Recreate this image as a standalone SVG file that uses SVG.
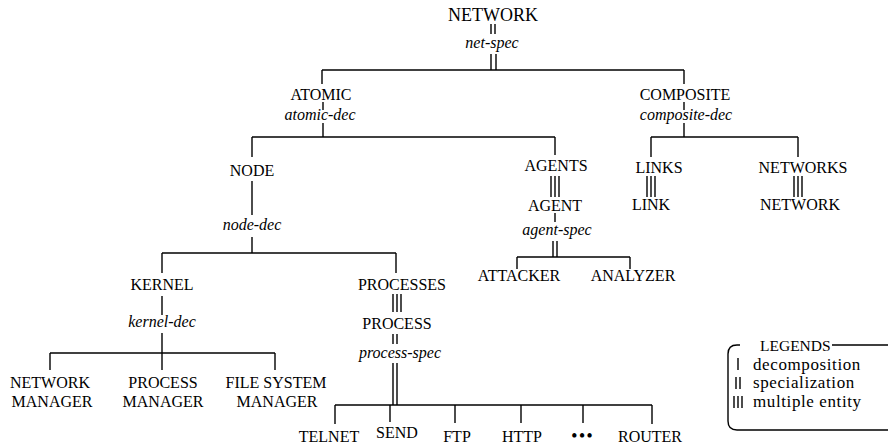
<svg xmlns="http://www.w3.org/2000/svg" width="888" height="444" viewBox="0 0 888 444">
<style>
  text { font-family: "Liberation Serif", "Times New Roman", serif; fill: #000; }
  .n { font-size: 16px; text-anchor: middle; }
  .t { font-size: 18px; text-anchor: middle; }
  .i { font-size: 16px; font-style: italic; text-anchor: middle; }
  .lg { font-size: 17px; letter-spacing: 0.6px; }
  .c line, .c path { stroke: #000; stroke-width: 1.4; fill: none; }
  .bx { stroke: #000; stroke-width: 1.4; fill: none; }
</style>
<rect width="888" height="444" fill="#fff"/>

<g id="connectors" class="c">
  <!-- NETWORK spec -->
  <line x1="491" y1="24" x2="491" y2="34"/><line x1="495" y1="24" x2="495" y2="34"/>
  <line x1="491" y1="54" x2="491" y2="70"/><line x1="496" y1="54" x2="496" y2="70"/>
  <line x1="322" y1="70" x2="684" y2="70"/>
  <line x1="322" y1="70" x2="322" y2="84"/><line x1="684" y1="70" x2="684" y2="84"/>
  <!-- ATOMIC -->
  <line x1="323" y1="102" x2="323" y2="110"/>
  <line x1="323" y1="123" x2="323" y2="137"/>
  <line x1="252" y1="137" x2="555" y2="137"/>
  <line x1="252" y1="137" x2="252" y2="157"/><line x1="555" y1="137" x2="555" y2="155"/>
  <!-- COMPOSITE -->
  <line x1="684" y1="102" x2="684" y2="110"/>
  <line x1="684" y1="123" x2="684" y2="137"/>
  <line x1="651" y1="137" x2="798" y2="137"/>
  <line x1="651" y1="137" x2="651" y2="157"/><line x1="798" y1="137" x2="798" y2="157"/>
  <line x1="647" y1="176" x2="647" y2="197"/><line x1="651" y1="176" x2="651" y2="197"/><line x1="655" y1="176" x2="655" y2="197"/>
  <line x1="794" y1="176" x2="794" y2="197"/><line x1="798" y1="176" x2="798" y2="197"/><line x1="802" y1="176" x2="802" y2="197"/>
  <!-- AGENTS -->
  <line x1="551" y1="176" x2="551" y2="197"/><line x1="555" y1="176" x2="555" y2="197"/><line x1="559" y1="176" x2="559" y2="197"/>
  <line x1="555" y1="213" x2="555" y2="222"/>
  <line x1="553" y1="241" x2="553" y2="257"/><line x1="557" y1="241" x2="557" y2="257"/>
  <line x1="517" y1="257" x2="630" y2="257"/>
  <line x1="517" y1="257" x2="517" y2="269"/><line x1="630" y1="257" x2="630" y2="269"/>
  <!-- NODE -->
  <line x1="252" y1="181" x2="252" y2="215"/>
  <line x1="252" y1="237" x2="252" y2="253"/>
  <line x1="162" y1="253" x2="396" y2="253"/>
  <line x1="162" y1="253" x2="162" y2="273"/><line x1="396" y1="253" x2="396" y2="273"/>
  <!-- KERNEL -->
  <line x1="162" y1="296" x2="162" y2="315"/>
  <line x1="162" y1="333" x2="162" y2="353"/>
  <line x1="50" y1="353" x2="275" y2="353"/>
  <line x1="50" y1="353" x2="50" y2="370"/><line x1="162" y1="353" x2="162" y2="370"/><line x1="275" y1="353" x2="275" y2="370"/>
  <!-- PROCESSES -->
  <line x1="393" y1="294" x2="393" y2="312"/><line x1="397" y1="294" x2="397" y2="312"/><line x1="401" y1="294" x2="401" y2="312"/>
  <line x1="393" y1="334" x2="393" y2="344"/><line x1="397" y1="334" x2="397" y2="344"/>
  <line x1="393" y1="363" x2="393" y2="405"/><line x1="397" y1="363" x2="397" y2="405"/>
  <line x1="335" y1="405" x2="652" y2="405"/>
  <line x1="335" y1="405" x2="335" y2="424"/><line x1="390" y1="405" x2="390" y2="422"/>
  <line x1="455" y1="405" x2="455" y2="423"/><line x1="521" y1="405" x2="521" y2="423"/>
  <line x1="583" y1="405" x2="583" y2="423"/><line x1="652" y1="405" x2="652" y2="424"/>
</g>

<g id="network"><text class="t" x="493" y="21">NETWORK</text><text class="i" x="492" y="48">net-spec</text></g>
<g id="atomic"><text class="n" x="321" y="100">ATOMIC</text><text class="i" x="320" y="120">atomic-dec</text></g>
<g id="composite"><text class="n" x="685" y="100">COMPOSITE</text><text class="i" x="686" y="120">composite-dec</text></g>
<g id="node"><text class="n" x="252" y="176">NODE</text><text class="i" x="252" y="230">node-dec</text></g>
<g id="agents"><text class="n" x="556" y="171">AGENTS</text></g>
<g id="agent"><text class="n" x="555" y="211">AGENT</text><text class="i" x="557" y="235">agent-spec</text></g>
<g id="links"><text class="n" x="659" y="173">LINKS</text></g>
<g id="link"><text class="n" x="651" y="210">LINK</text></g>
<g id="networks"><text class="n" x="803" y="173">NETWORKS</text></g>
<g id="network2"><text class="n" x="800" y="210">NETWORK</text></g>
<g id="attacker"><text class="n" x="519" y="281">ATTACKER</text></g>
<g id="analyzer"><text class="n" x="633" y="281">ANALYZER</text></g>
<g id="kernel"><text class="n" x="162" y="290">KERNEL</text><text class="i" x="162" y="327">kernel-dec</text></g>
<g id="processes"><text class="n" x="402" y="290">PROCESSES</text></g>
<g id="process"><text class="n" x="397" y="329">PROCESS</text><text class="i" x="400" y="358">process-spec</text></g>
<g id="network-manager"><text class="n" x="50" y="388">NETWORK</text><text class="n" x="52" y="407">MANAGER</text></g>
<g id="process-manager"><text class="n" x="163" y="388">PROCESS</text><text class="n" x="163" y="407">MANAGER</text></g>
<g id="file-system-manager"><text class="n" x="276" y="388">FILE SYSTEM</text><text class="n" x="277" y="407">MANAGER</text></g>
<g id="telnet"><text class="n" x="329" y="442">TELNET</text></g>
<g id="send"><text class="n" x="397" y="438">SEND</text></g>
<g id="ftp"><text class="n" x="457" y="442">FTP</text></g>
<g id="http"><text class="n" x="522" y="442">HTTP</text></g>
<g id="more"><text class="n" x="583" y="441" style="font-weight:bold;letter-spacing:2px">•••</text></g>
<g id="router"><text class="n" x="650" y="442">ROUTER</text></g>

<g id="legend">
  <path class="bx" d="M740,345 H737 Q728,345 728,354 V421 Q728,430 737,430 H888 M832,345 H888"/>
  <text x="760" y="351" style="font-size:15.5px">LEGENDS</text>
  <g class="c">
    <line x1="738" y1="358" x2="738" y2="370"/>
    <line x1="736" y1="377" x2="736" y2="389"/><line x1="740" y1="377" x2="740" y2="389"/>
    <line x1="734" y1="396" x2="734" y2="408"/><line x1="738" y1="396" x2="738" y2="408"/><line x1="742" y1="396" x2="742" y2="408"/>
  </g>
  <text class="lg" x="753" y="370">decomposition</text>
  <text class="lg" x="753" y="388">specialization</text>
  <text class="lg" x="753" y="407">multiple entity</text>
</g>
</svg>
